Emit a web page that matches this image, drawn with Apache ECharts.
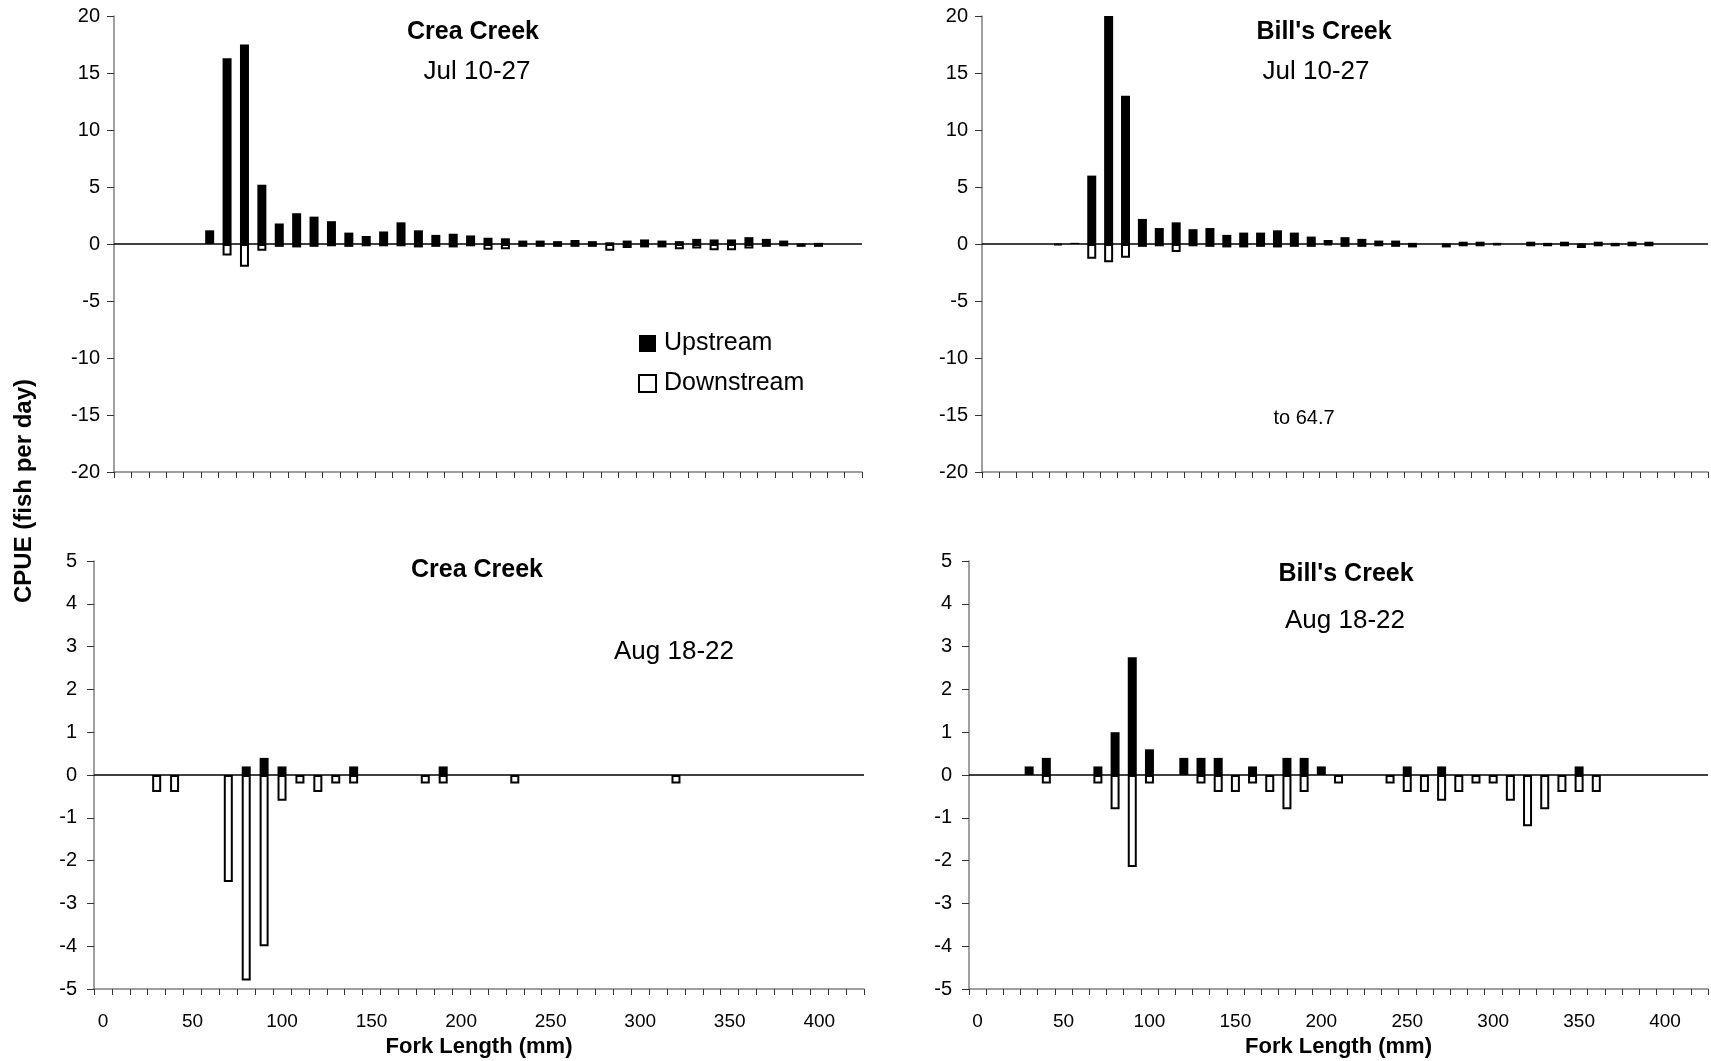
<!DOCTYPE html>
<html>
<head>
<meta charset="utf-8">
<script src="https://cdn.jsdelivr.net/npm/echarts@6/dist/echarts.min.js"></script>
<style>
  html, body { margin: 0; padding: 0; background: #fff; }
  #chart { width: 1711px; height: 1061px; }
</style>
</head>
<body>
<div id="chart"></div>
<script>
// fork length classes (mm)
const forkLengths = ['0', '10', '20', '30', '40', '50', '60', '70', '80', '90',
  '100', '110', '120', '130', '140', '150', '160', '170', '180', '190',
  '200', '210', '220', '230', '240', '250', '260', '270', '280', '290',
  '300', '310', '320', '330', '340', '350', '360', '370', '380', '390',
  '400', '410', '420']

// Crea Creek, Jul 10-27
const creaJulUp = [null, null, null, null, null, 1.2, 16.3, 17.5, 5.2, 1.8,
  2.7, 2.4, 2.0, 1.0, 0.7, 1.1, 1.9, 1.2, 0.8, 0.9,
  0.75, 0.55, 0.5, 0.3, 0.3, 0.25, 0.35, 0.25, 0.15, 0.3,
  0.4, 0.3, 0.25, 0.45, 0.4, 0.4, 0.6, 0.45, 0.3, 0.05,
  0.1, null, null]
const creaJulDown = [null, null, null, null, null, null, -1.0, -2.0, -0.6, -0.25,
  -0.3, -0.25, -0.2, -0.25, -0.2, -0.2, -0.2, -0.3, -0.25, -0.3,
  -0.2, -0.5, -0.45, -0.25, -0.25, -0.25, -0.25, -0.25, -0.6, -0.35,
  -0.3, -0.3, -0.45, -0.4, -0.55, -0.55, -0.4, -0.25, -0.2, -0.25,
  -0.25, null, null]

// Bill's Creek, Jul 10-27 (70 mm bar runs off the axis, to 64.7)
const billJulUp = [null, null, null, null, null, 0.1, 6.0, 64.7, 13.0, 2.2,
  1.4, 1.9, 1.3, 1.4, 0.8, 1.0, 1.0, 1.2, 1.0, 0.65,
  0.35, 0.6, 0.45, 0.3, 0.3, 0.1, null, 0.05, 0.2, 0.2,
  0.1, null, 0.2, 0.1, 0.2, 0.05, 0.2, 0.1, 0.2, 0.2,
  null, null, null]
const billJulDown = [null, null, null, null, -0.1, null, -1.3, -1.6, -1.2, -0.25,
  -0.2, -0.7, -0.2, -0.25, -0.3, -0.3, -0.25, -0.3, -0.25, -0.25,
  -0.1, -0.25, -0.25, -0.2, -0.25, -0.3, null, -0.3, -0.2, -0.2,
  -0.1, null, -0.2, -0.2, -0.2, -0.35, -0.2, -0.2, -0.2, -0.2,
  null, null, null]

// Crea Creek, Aug 18-22
const creaAugUp = [null, null, null, null, null, null, null, null, 0.2, 0.4,
  0.2, null, null, null, 0.2, null, null, null, null, 0.2,
  null, null, null, null, null, null, null, null, null, null,
  null, null, null, null, null, null, null, null, null, null,
  null, null, null]
const creaAugDown = [null, null, null, -0.4, -0.4, null, null, -2.5, -4.8, -4.0,
  -0.6, -0.2, -0.4, -0.2, -0.2, null, null, null, -0.2, -0.2,
  null, null, null, -0.2, null, null, null, null, null, null,
  null, null, -0.2, null, null, null, null, null, null, null,
  null, null, null]

// Bill's Creek, Aug 18-22
const billAugUp = [null, null, null, 0.2, 0.4, null, null, 0.2, 1.0, 2.75,
  0.6, null, 0.4, 0.4, 0.4, null, 0.2, null, 0.4, 0.4,
  0.2, null, null, null, null, 0.2, null, 0.2, null, null,
  null, null, null, null, null, 0.2, null, null, null, null,
  null, null, null]
const billAugDown = [null, null, null, null, -0.2, null, null, -0.2, -0.8, -2.15,
  -0.2, null, null, -0.2, -0.4, -0.4, -0.2, -0.4, -0.8, -0.4,
  null, -0.2, null, null, -0.2, -0.4, -0.4, -0.6, -0.4, -0.2,
  -0.2, -0.6, -1.2, -0.8, -0.4, -0.4, -0.4, null, null, null,
  null, null, null]

const FONT = '"Liberation Sans", Arial, sans-serif'

const panels = [
  {grid: {left: 114, top: 16, width: 748, height: 456}, min: -20, max: 20, step: 5, up: creaJulUp, down: creaJulDown, labels: false, margin: 14},
  {grid: {left: 982, top: 16, width: 726, height: 456}, min: -20, max: 20, step: 5, up: billJulUp, down: billJulDown, labels: false, margin: 14},
  {grid: {left: 94, top: 561, width: 770, height: 428}, min: -5, max: 5, step: 1, up: creaAugUp, down: creaAugDown, labels: true, margin: 17},
  {grid: {left: 969, top: 561, width: 739, height: 428}, min: -5, max: 5, step: 1, up: billAugUp, down: billAugDown, labels: true, margin: 17}
]

let grids = []
let xAxes = []
let yAxes = []
let seriesData = []
panels.forEach((p, i) => {
  grids.push(p.grid)
  xAxes.push({
    type: 'category',
    gridIndex: i,
    data: forkLengths,
    boundaryGap: true,
    axisLine: {show: true, onZero: false, lineStyle: {color: '#808080', width: 1.5}},
    axisTick: {show: true, interval: 0, length: 6, lineStyle: {color: '#333'}},
    axisLabel: {show: p.labels, interval: 4, fontSize: 19, color: '#000', fontFamily: FONT, margin: 23},
    splitLine: {show: false},
    name: p.labels ? 'Fork Length (mm)' : '',
    nameLocation: 'middle',
    nameGap: 47,
    nameTextStyle: {fontSize: 22, fontWeight: 'bold', color: '#000', fontFamily: FONT}
  })
  yAxes.push({
    type: 'value',
    gridIndex: i,
    min: p.min,
    max: p.max,
    interval: p.step,
    axisLine: {show: true, lineStyle: {color: '#808080', width: 1.5}},
    axisTick: {show: true, length: 7, lineStyle: {color: '#333'}},
    axisLabel: {fontSize: 20, color: '#000', fontFamily: FONT, margin: p.margin},
    splitLine: {show: false}
  })
  seriesData.push({
    name: 'Upstream',
    type: 'bar',
    xAxisIndex: i,
    yAxisIndex: i,
    barWidth: 9,
    barGap: '-100%',
    clip: true,
    itemStyle: {color: '#000'},
    data: p.up,
    markLine: {
      silent: true,
      symbol: 'none',
      label: {show: false},
      lineStyle: {color: '#000', width: 1.5, type: 'solid'},
      data: [{yAxis: 0}]
    }
  })
  seriesData.push({
    name: 'Downstream',
    type: 'bar',
    xAxisIndex: i,
    yAxisIndex: i,
    barWidth: 9,
    barGap: '-100%',
    clip: true,
    itemStyle: {color: '#fff', borderColor: '#000', borderWidth: 2},
    data: p.down
  })
})

function label (text, x, y, size, bold) {
  return {
    text: text,
    left: x,
    top: y,
    padding: 0,
    textAlign: 'center',
    textVerticalAlign: 'middle',
    textStyle: {fontSize: size, fontWeight: bold ? 'bold' : 'normal', color: '#000', fontFamily: FONT}
  }
}

let Chart = echarts.init(document.getElementById('chart'))
Chart.setOption({
  animation: false,
  backgroundColor: '#fff',
  title: [
    label('Crea Creek', 473, 32, 25, true),
    label('Jul 10-27', 477, 72, 26, false),
    label("Bill's Creek", 1324, 32, 25, true),
    label('Jul 10-27', 1316, 72, 26, false),
    label('to 64.7', 1304, 418, 20, false),
    label('Crea Creek', 477, 570, 25, true),
    label('Aug 18-22', 674, 652, 26, false),
    label("Bill's Creek", 1346, 574, 25, true),
    label('Aug 18-22', 1345, 621, 26, false)
  ],
  legend: {
    data: ['Upstream', 'Downstream'],
    orient: 'vertical',
    left: 633,
    top: 326,
    itemWidth: 17,
    itemHeight: 17,
    itemGap: 15,
    icon: 'rect',
    selectedMode: false,
    textStyle: {fontSize: 25, color: '#000', fontFamily: FONT, padding: [0, 0, 0, 3]}
  },
  graphic: [{
    type: 'text',
    x: 24,
    y: 491,
    rotation: Math.PI / 2,
    style: {
      text: 'CPUE (fish per day)',
      font: 'bold 24px "Liberation Sans", Arial, sans-serif',
      fill: '#000',
      textAlign: 'center',
      textVerticalAlign: 'middle'
    }
  }],
  grid: grids,
  xAxis: xAxes,
  yAxis: yAxes,
  series: seriesData
})
</script>
</body>
</html>
